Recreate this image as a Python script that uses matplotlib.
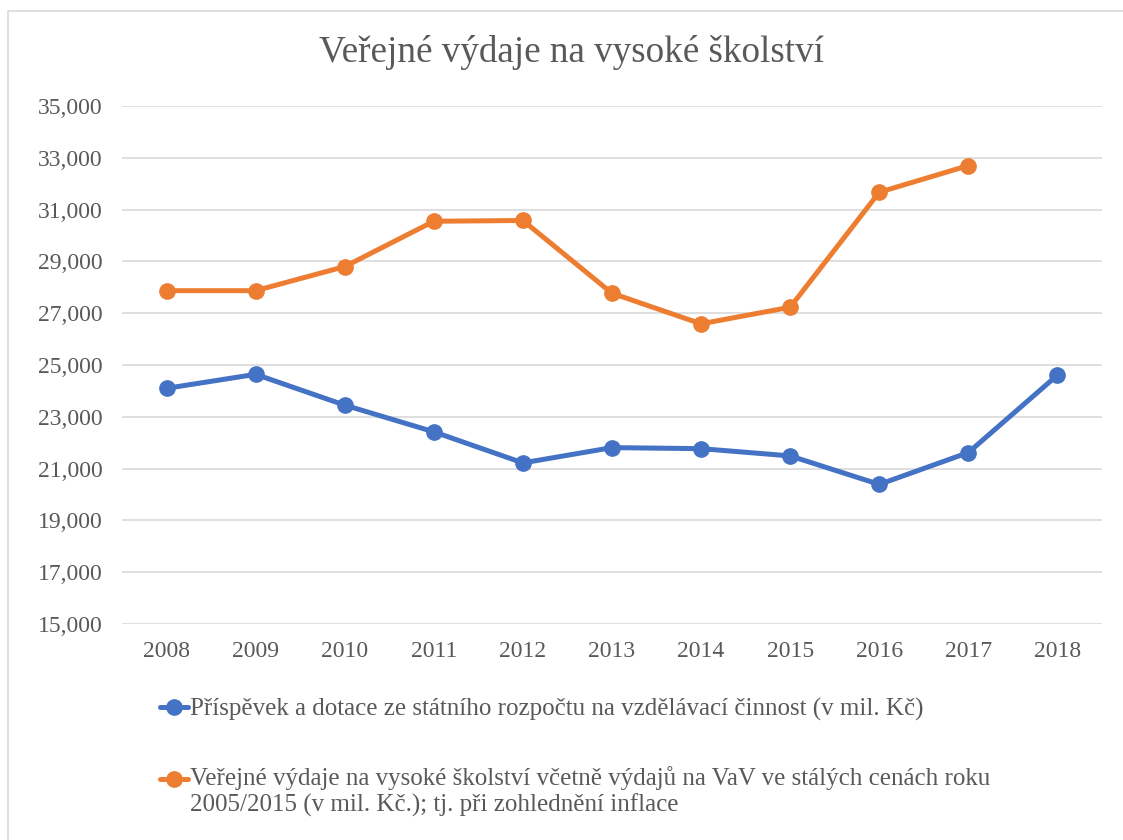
#Veřejné výdaje na vysoké školství - line chart

import matplotlib
matplotlib.use("Agg")
import matplotlib.pyplot as plt
from matplotlib.patches import Rectangle
from matplotlib.legend_handler import HandlerLine2D
from matplotlib.ticker import FuncFormatter

#Data (mil. Kč)
years = ["2008", "2009", "2010", "2011", "2012", "2013", "2014", "2015", "2016", "2017", "2018"]
prispevek = [24100, 24640, 23450, 22420, 21220, 21810, 21770, 21490, 20390, 21620, 24610]
verejne = [27870, 27870, 28800, 30550, 30580, 27770, 26590, 27230, 31670, 32700, None]

label_blue = "Příspěvek a dotace ze státního rozpočtu na vzdělávací činnost (v mil. Kč)"
label_orange = ("Veřejné výdaje na vysoké školství včetně výdajů na VaV ve stálých cenách roku\n"
                "2005/2015 (v mil. Kč.); tj. při zohlednění inflace")
title = "Veřejné výdaje na vysoké školství"

blue = "#4472C4"
orange = "#ED7D31"
text_col = "#595959"
grid_col = "#D9D9D9"

plt.rcParams['font.family'] = ['Liberation Serif', 'DejaVu Serif']

fig = plt.figure(figsize=(11.23, 8.4), dpi=100)
ax = fig.add_axes([122/1123, 1 - 624/840, 980/1123, 518/840])

x = list(range(len(years)))
orange_x = [i for i, v in zip(x, verejne) if v is not None]
orange_y = [v for v in verejne if v is not None]

l1, = ax.plot(x, prispevek, color=blue, lw=3.6, marker="o", ms=11, solid_capstyle="round")
l2, = ax.plot(orange_x, orange_y, color=orange, lw=3.6, marker="o", ms=11, solid_capstyle="round")

ax.set_xlim(-0.5, len(years) - 0.5)
ax.set_ylim(15000, 35000)
ax.set_yticks(range(15000, 35001, 2000))
ax.yaxis.set_major_formatter(FuncFormatter(lambda v, p: f"{int(v):,}"))
ax.set_xticks(x)
ax.set_xticklabels(years)
ax.tick_params(axis="both", length=0, labelsize=17, colors=text_col)
ax.tick_params(axis="y", pad=14)
ax.tick_params(axis="x", pad=12)
ax.grid(axis="y", color=grid_col, lw=1.2)
ax.set_axisbelow(True)
for s in ax.spines.values():
    s.set_visible(False)

fig.text(571/1123, 1 - 52/840, title, ha="center", va="center", fontsize=26.7, color=text_col)

#Move the handle of the two-line entry up to its first line
class TopHandler(HandlerLine2D):
    def __init__(self, shift=0, **kw):
        super().__init__(**kw)
        self.shift = shift

    def create_artists(self, legend, orig_handle, xdescent, ydescent, width, height, fontsize, trans):
        return super().create_artists(legend, orig_handle, xdescent, ydescent - self.shift,
                                      width, height, fontsize, trans)

leg = fig.legend([l1, l2], [label_blue, label_orange],
                 loc="upper left", bbox_to_anchor=(160/1123, 1 - 698/840),
                 frameon=False, fontsize=18, labelcolor=text_col,
                 handlelength=1.12, handletextpad=0.08, labelspacing=1.8,
                 borderpad=0, borderaxespad=0,
                 handler_map={l2: TopHandler(shift=18)})

fig.add_artist(Rectangle((8/1123, -0.05), 1.2, 1 - 11/840 + 0.05, transform=fig.transFigure,
                         fill=False, edgecolor=grid_col, lw=1.2))

fig.savefig("out.png", dpi=100, facecolor="white")
